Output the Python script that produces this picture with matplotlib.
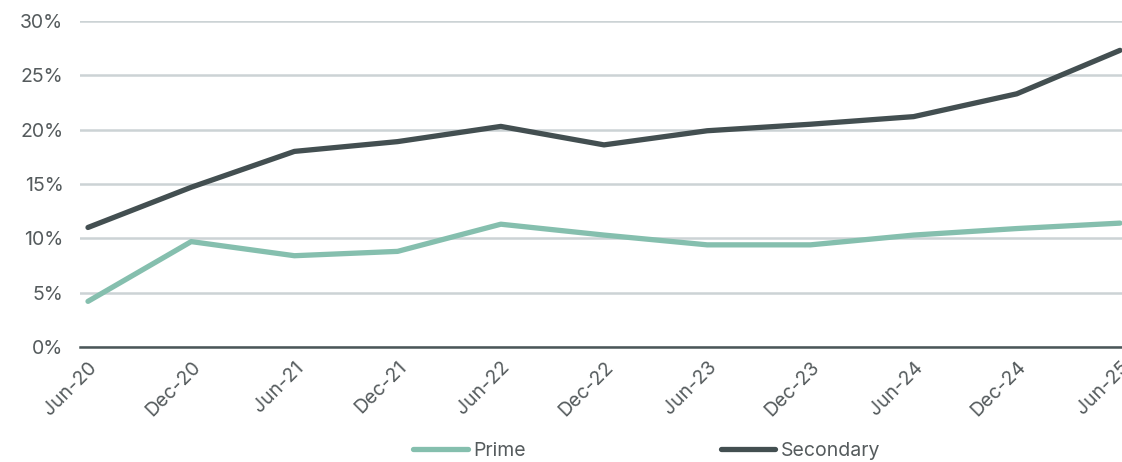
import matplotlib.pyplot as plt
from matplotlib.ticker import FuncFormatter

plt.rcParams['font.family'] = ['Inter', 'DejaVu Sans']

periods = ['Jun-20', 'Dec-20', 'Jun-21', 'Dec-21', 'Jun-22', 'Dec-22',
           'Jun-23', 'Dec-23', 'Jun-24', 'Dec-24', 'Jun-25']
prime = [4.2, 9.7, 8.4, 8.8, 11.3, 10.3, 9.4, 9.4, 10.3, 10.9, 11.4]
secondary = [11.0, 14.7, 18.0, 18.9, 20.3, 18.6, 19.9, 20.5, 21.2, 23.3, 27.3]

prime_col = '#85bfae'
secondary_col = '#434f51'
text_col = '#555b5d'

fig = plt.figure(figsize=(11.22, 4.62), dpi=100)
ax = fig.add_axes([80 / 1122, 1 - 347 / 462, 1042 / 1122, 326 / 462])

x = range(len(periods))
ax.plot(x, prime, color=prime_col, lw=3.8, solid_capstyle='round', label='Prime', clip_on=False, zorder=3)
ax.plot(x, secondary, color=secondary_col, lw=3.8, solid_capstyle='round', label='Secondary', clip_on=False, zorder=3)

ax.set_ylim(0, 30)
ax.set_xlim(-8 / 103.2, 10 + 2 / 103.2)
ax.set_yticks(range(0, 31, 5))
ax.yaxis.set_major_formatter(FuncFormatter(lambda v, p: f'{v:.0f}%'))
ax.grid(axis='y', color='#ccd3d5', lw=1.8)
ax.set_axisbelow(True)

for s in ['top', 'right', 'left']:
    ax.spines[s].set_visible(False)
ax.spines['bottom'].set_color('#4a5658')
ax.spines['bottom'].set_linewidth(1.8)
ax.spines['bottom'].set_zorder(2)

ax.set_xticks(list(x))
ax.set_xticklabels(periods, rotation=45, ha='right', rotation_mode='anchor')
ax.tick_params(axis='both', length=0, labelsize=14, colors=text_col, pad=12)
ax.tick_params(axis='x', pad=8)

ax.legend(loc='center', bbox_to_anchor=(0.544, -0.318), ncol=2, frameon=False,
          fontsize=14, labelcolor=text_col, handlelength=2.8, handletextpad=0.3,
          columnspacing=10.0, borderaxespad=0, borderpad=0)

fig.savefig('out.png', dpi=100)
